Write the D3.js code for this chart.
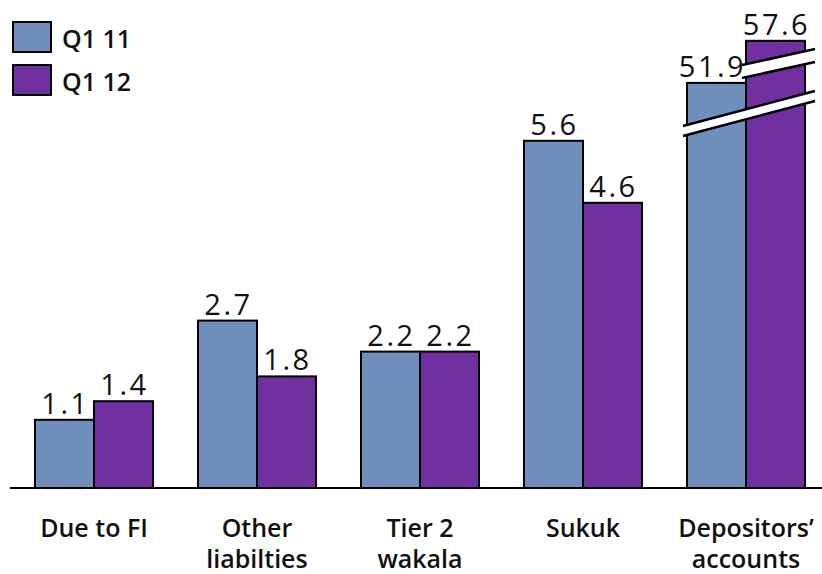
<!DOCTYPE html>
<html><head><meta charset="utf-8">
<script src="https://cdn.jsdelivr.net/npm/d3@7/dist/d3.min.js"></script>
<style>body{margin:0;background:#fff}svg{display:block}</style>
</head><body><svg id="c" width="822" height="574"></svg>
<script>
const categories = [["Due to FI"], ["Other", "liabilties"], ["Tier 2", "wakala"], ["Sukuk"], ["Depositors’", "accounts"]];
const seriesNames = ["Q1 11", "Q1 12"];
const q1_11 = [1.1, 2.7, 2.2, 5.6, 51.9];
const q1_12 = [1.4, 1.8, 2.2, 4.6, 57.6];
const colors = ["#6F8EBB", "#7030A0"];

const svg = d3.select("#c");
const base = 488;
const x = d3.scaleBand().domain(d3.range(categories.length)).range([12.5, 827.5]).paddingInner(0.276).paddingOuter(0.138);
const xs = d3.scaleBand().domain([0, 1]).range([0, x.bandwidth()]);
// broken axis: piecewise linear
const y = d3.scaleLinear().domain([0, 6, 47.42, 60]).range([base, 116, 116, 23.1]);

const series = [q1_11, q1_12];
series.forEach((vals, si) => {
  svg.selectAll(".b" + si).data(vals).enter().append("rect")
    .attr("x", (d, i) => x(i) + xs(si))
    .attr("y", d => y(d))
    .attr("width", xs.bandwidth())
    .attr("height", d => base - y(d))
    .attr("fill", colors[si]).attr("stroke", "#000").attr("stroke-width", 2);
});

// axis baseline
svg.append("line").attr("x1", 10).attr("x2", 822).attr("y1", base).attr("y2", base)
  .attr("stroke", "#000").attr("stroke-width", 2);

// break marks on last category
const li = categories.length - 1;
const bx1 = x(li) + x.bandwidth(), bx0 = x(li), pm = x(li) + xs(1);
function band(xl, yl, xr, yr, th) {
  const gg = svg.append("g");
  gg.append("path").attr("d", `M${xl},${yl}L${xr},${yr}L${xr},${yr + th}L${xl},${yl + th}Z`).attr("fill", "#fff");
  gg.append("line").attr("x1", xl).attr("y1", yl).attr("x2", xr).attr("y2", yr).attr("stroke", "#000").attr("stroke-width", 2.5);
  gg.append("line").attr("x1", xl).attr("y1", yl + th).attr("x2", xr).attr("y2", yr + th).attr("stroke", "#000").attr("stroke-width", 2.5);
}
band(bx0 - 4, y(6) + 10, bx1 + 10, y(6) - 25, 10);
band(pm - 4, y(6) - 51, bx1 + 10, y(6) - 67, 13);

// value labels
series.forEach((vals, si) => {
  svg.selectAll(".l" + si).data(vals).enter().append("text")
    .attr("x", (d, i) => x(i) + xs(si) + xs.bandwidth() / 2 + 1 - (i === li && si === 0 ? 5 : 0))
    .attr("y", d => y(d) - 6)
    .attr("text-anchor", "middle")
    .attr("font-family", "Open Sans, sans-serif").attr("font-size", 29).attr("font-weight", 500)
    .attr("letter-spacing", 2.5).attr("fill", "#111")
    .text(d => d.toFixed(1));
});

// category labels
categories.forEach((lines, i) => {
  const cx = x(i) + x.bandwidth() / 2;
  const t = svg.append("text").attr("x", cx).attr("y", 537)
    .attr("text-anchor", "middle").attr("font-family", "Open Sans, sans-serif")
    .attr("font-size", 25).attr("font-weight", 600).attr("fill", "#111");
  lines.forEach((s, k) => t.append("tspan").attr("x", cx).attr("dy", k ? 31 : 0).text(s));
});

// legend
seriesNames.forEach((s, i) => {
  svg.append("rect").attr("x", 13).attr("y", 22 + i * 43).attr("width", 38).attr("height", 30)
    .attr("fill", colors[i]).attr("stroke", "#000").attr("stroke-width", 2);
  svg.append("text").attr("x", 62).attr("y", 48 + i * 43).attr("font-family", "Open Sans, sans-serif")
    .attr("font-size", 25).attr("font-weight", 600).attr("fill", "#111").text(s);
});
</script></body></html>
